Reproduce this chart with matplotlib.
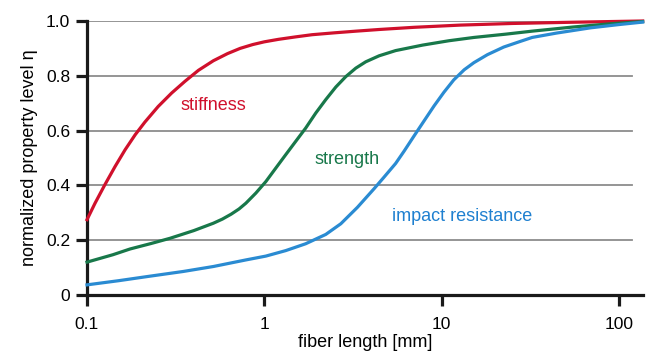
import numpy as np
import matplotlib.pyplot as plt

plt.rcParams['font.family'] = ['Liberation Sans', 'DejaVu Sans']

# values (fiber length in mm, normalized level)
x_stiff = [0.1, 0.111, 0.126, 0.144, 0.164, 0.187, 0.212, 0.252, 0.30, 0.357, 0.425,
           0.516, 0.62, 0.73, 0.86, 1.0, 1.2, 1.5, 1.86, 2.5, 3.3, 4.44, 7.0, 12.7,
           25, 50, 90, 136]
y_stiff = [0.275, 0.335, 0.402, 0.469, 0.53, 0.585, 0.631, 0.688, 0.737, 0.78, 0.82,
           0.855, 0.881, 0.9, 0.914, 0.924, 0.933, 0.942, 0.95, 0.957, 0.963, 0.969,
           0.977, 0.985, 0.991, 0.995, 0.998, 1.0]

x_str = [0.1, 0.14, 0.175, 0.23, 0.294, 0.4, 0.516, 0.58, 0.65, 0.72, 0.787, 0.896,
         1.02, 1.16, 1.32, 1.50, 1.71, 1.95, 2.22, 2.53, 2.88, 3.28, 3.73, 4.44, 5.5,
         7.8, 11, 15.2, 23, 32.4, 55, 90, 136]
y_str = [0.12, 0.147, 0.168, 0.188, 0.207, 0.235, 0.262, 0.277, 0.295, 0.314, 0.335,
         0.372, 0.414, 0.463, 0.512, 0.56, 0.609, 0.664, 0.713, 0.759, 0.797, 0.828,
         0.851, 0.873, 0.892, 0.912, 0.928, 0.94, 0.952, 0.963, 0.978, 0.99, 0.998]

x_imp = [0.1, 0.15, 0.217, 0.35, 0.516, 0.787, 1.02, 1.32, 1.71, 2.22, 2.7, 3.35,
         4.16, 4.73, 5.5, 6.14, 6.98, 7.95, 9.06, 10.3, 11.7, 13.4, 15.2, 18.1,
         22.4, 27.9, 32.4, 44.5, 69, 100, 136]
y_imp = [0.037, 0.052, 0.067, 0.086, 0.104, 0.128, 0.142, 0.162, 0.187, 0.221, 0.26,
         0.32, 0.388, 0.43, 0.48, 0.525, 0.58, 0.635, 0.69, 0.74, 0.785, 0.822,
         0.848, 0.877, 0.905, 0.926, 0.94, 0.956, 0.975, 0.987, 0.996]

red = '#d0102c'
green = '#18784a'
blue = '#2a8bd2'

fig = plt.figure(figsize=(6.47, 3.52), dpi=100)
ax = fig.add_axes([87/647, 57/352, 556/647, 274/352])

ax.plot(x_stiff, y_stiff, color=red, lw=2.3, clip_on=False, zorder=3)
ax.plot(x_str, y_str, color=green, lw=2.3, clip_on=False, zorder=3)
ax.plot(x_imp, y_imp, color=blue, lw=2.3, clip_on=False, zorder=3)

ax.set_xscale('log')
ax.set_xlim(0.1, 136.6)
ax.set_ylim(0, 1.0)

ax.set_xticks([0.1, 1, 10, 100])
ax.set_xticklabels(['0.1', '1', '10', '100'])
ax.xaxis.set_minor_locator(plt.NullLocator())
ax.set_yticks([0, 0.2, 0.4, 0.6, 0.8, 1.0])
ax.set_yticklabels(['0', '0.2', '0.4', '0.6', '0.8', '1.0'])

for y in [0.2, 0.4, 0.6, 0.8, 1.0]:
    ax.axhline(y, xmax=0.98, color='#8c8c8c', lw=1.3, zorder=1)

for s in ['top', 'right']:
    ax.spines[s].set_visible(False)
for s in ['left', 'bottom']:
    ax.spines[s].set_linewidth(2.3)
    ax.spines[s].set_color('#1a1a1a')
ax.tick_params(axis='both', width=2.3, length=8, labelsize=12.5, color='#1a1a1a')
ax.tick_params(axis='x', pad=7.5)
ax.tick_params(axis='y', pad=4)

ax.set_xlabel('fiber length [mm]', fontsize=13, labelpad=2)
ax.set_ylabel('normalized property level η', fontsize=13, labelpad=6)

ax.text(0.335, 0.69, 'stiffness', color=red, fontsize=13, va='center')
ax.text(1.93, 0.494, 'strength', color=green, fontsize=13, va='center')
ax.text(5.25, 0.285, 'impact resistance', color='#1f80d0', fontsize=13, va='center')

fig.savefig('out.png', dpi=100)
